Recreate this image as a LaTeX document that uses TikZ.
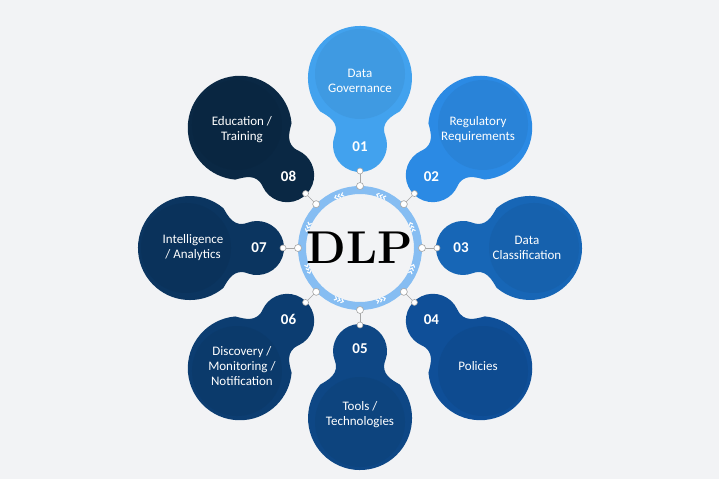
\documentclass[tikz,border=0pt]{standalone}
\usepackage{fontspec}
\setsansfont{Carlito}
\usetikzlibrary{positioning,calc}
\definecolor{bgray}{HTML}{F2F3F5}
\definecolor{ringblue}{HTML}{86BDF2}
\definecolor{cA}{HTML}{42A2EE}
\definecolor{cB}{HTML}{2B8AE4}
\definecolor{cC}{HTML}{1766B6}
\definecolor{cD}{HTML}{0F4F98}
\definecolor{cE}{HTML}{0E4785}
\definecolor{cF}{HTML}{0C3D71}
\definecolor{cG}{HTML}{0B3560}
\definecolor{cH}{HTML}{0A2844}
\tikzset{
  petaltext/.style={text=white, font=\sffamily\fontsize{13}{15}\selectfont, align=center},
  numlabel/.style={text=white, font=\sffamily\bfseries\fontsize{15}{15}\selectfont},
  dot/.style={circle, draw=gray!70, fill=white, inner sep=0pt, minimum size=6pt, line width=0.6pt},
  chev/.style={white, line width=1.1pt}
}
\begin{document}
\begin{tikzpicture}[x=1pt, y=1pt]
          \fill[bgray] (0,0) rectangle (719,479);
          \useasboundingbox (0,0) rectangle (719,479);
          \coordinate (o) at (360,231);

          % petals
          \foreach \a/\c/\n/\t in {90/cA/01/{Data\\Governance},
                                   45/cB/02/{Regulatory\\Requirements},
                                   0/cC/03/{Data\\Classification},
                                   -45/cD/04/{Policies},
                                   -90/cE/05/{Tools /\\Technologies},
                                   -135/cF/06/{Discovery /\\Monitoring /\\Notification},
                                   180/cG/07/{Intelligence\\/ Analytics},
                                   135/cH/08/{Education /\\Training}}{
            \begin{scope}[shift={(o)}, rotate=\a-90]
              \fill[\c] (-25.4,112.2) coordinate (s)
                arc[start angle=160, end angle=380, radius=27]
                .. controls (20,126) and (32,132) .. (39.8,136.6)
                arc[start angle=-40, end angle=220, radius=52]
                .. controls (-32,132) and (-20,126) .. (s);
              \fill[\c!95!black] (0,174) circle (45);
            \end{scope}
            \node[petaltext] (t\n) at ($(o)+(\a:167)$) {\t};
            \node[numlabel] (n\n) at ($(o)+(\a:101)$) {\n};
            \node[dot] (r\n) at ($(o)+(\a:62)$) {};
            \node[dot] (d\n) at ($(o)+(\a:77)$) {};
            \draw[gray!70, line width=0.6pt] (r\n) -- (d\n);
          }

          % ring
          \draw[ringblue, line width=8pt] (o) circle (58);
          \foreach \a in {112,68,22,-22,-68,-112,-158,158}
            \foreach \k in {-3.5,0,3.5}
              \draw[chev, shift={(o)}, rotate=\a] (58,\k-1.2) -- (56,\k+1) -- (54,\k-1.2);
          \foreach \a in {90,45,0,-45,-90,-135,180,135}
            \node[dot, minimum size=7pt] (rr\a) at ($(o)+(\a:62)$) {};

          \node[font=\bfseries\fontsize{46}{46}\selectfont] (dlp) at (o) {DLP};
        \end{tikzpicture}
\end{document}
